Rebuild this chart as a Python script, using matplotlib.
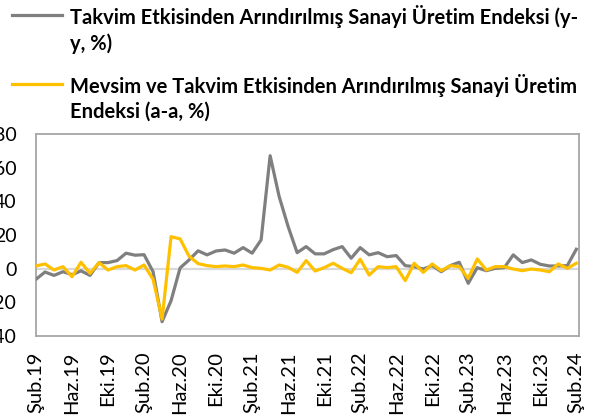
import matplotlib
matplotlib.use("Agg")
import matplotlib.pyplot as plt
from matplotlib.lines import Line2D
import numpy as np

# aylik seriler, Subat 2019 - Subat 2024
aylar = ["Oca", "Şub", "Mar", "Nis", "May", "Haz", "Tem", "Ağu", "Eyl", "Eki", "Kas", "Ara"]
yy_endeks = [-6.3, -2.0, -4.0, -1.8, -3.6, -1.3, -4.0, 3.6, 3.6, 4.8,
             9.2, 8.0, 8.3, -1.8, -31.5, -19.0, 0.4, 5.2, 10.6, 8.2,
             10.5, 11.1, 9.2, 12.5, 9.2, 17.1, 67.1, 42.9, 25.0, 9.5,
             13.1, 8.8, 8.8, 11.3, 13.1, 6.2, 12.5, 8.2, 9.5, 7.1,
             7.8, 1.8, 1.2, -0.2, 1.8, -1.8, 1.8, 3.8, -8.7, 0.6,
             -1.2, 0.2, 0.6, 8.2, 3.6, 5.2, 2.6, 1.6, 1.6, 1.8,
             11.5]
aa_endeks = [1.6, 2.8, -0.8, 1.2, -4.8, 3.8, -2.8, 3.6, -0.8, 1.2,
             1.8, -0.8, 2.2, -6.3, -29.9, 19.0, 17.7, 7.4, 3.0, 1.8,
             1.2, 1.6, 1.2, 2.2, 0.6, 0.2, -0.8, 2.2, 0.8, -2.2,
             4.8, -1.4, 0.6, 3.2, 0.2, -2.4, 5.6, -3.8, 1.2, 0.6,
             1.2, -7.1, 3.2, -2.2, 2.8, -1.2, 1.8, 1.2, -5.8, 5.8,
             -0.8, 1.2, 1.2, -0.2, -1.2, -0.2, -0.8, -1.8, 2.8, 0.2,
             3.2]
seri_adlari = ["Takvim Etkisinden Arındırılmış Sanayi Üretim Endeksi (y-\ny, %)",
               "Mevsim ve Takvim Etkisinden Arındırılmış Sanayi Üretim\nEndeksi (a-a, %)"]

etiketler = []
for k in range(len(yy_endeks)):
    ay = (1 + k) % 12
    yil = 19 + (1 + k) // 12
    etiketler.append(f"{aylar[ay]}.{yil}")

plt.rcParams['font.family'] = ['Lato', 'DejaVu Sans']

W, H = 605, 418
fig = plt.figure(figsize=(W / 100, H / 100), dpi=100)
ax = fig.add_axes([36 / W, 82 / H, 543 / W, 202 / H])

x = np.arange(len(yy_endeks))
ax.axhline(0, color="#d9d9d9", lw=1.6, zorder=1)
ax.plot(x, yy_endeks, color="#7f7f7f", lw=2.3, zorder=3)
ax.plot(x, aa_endeks, color="#ffc000", lw=2.3, zorder=4)

ax.set_xlim(0, 60.3)
ax.set_ylim(-40, 80)
ax.set_yticks(range(-40, 81, 20))
ax.set_xticks(x[::4])
ax.set_xticklabels(etiketler[::4], rotation=90, fontsize=14.5)
ax.tick_params(axis="y", length=0, pad=14, labelsize=14)
ax.tick_params(axis="x", length=0, pad=11)
for s in ax.spines.values():
    s.set_color("#a6a6a6")
    s.set_linewidth(1.3)

# lejant (Excel gibi grafik ustunde)
renkler = ["#7f7f7f", "#ffc000"]
ust = [15, 84]
for ad, renk, yp in zip(seri_adlari, renkler, ust):
    fig.add_artist(Line2D([12 / W, 62 / W], [1 - yp / H, 1 - yp / H], color=renk, lw=2.3))
    fig.text(70 / W, 1 - (yp - 10) / H, ad, fontsize=14.5, fontweight="bold",
             va="top", ha="left", linespacing=1.3)

fig.savefig("out.png", dpi=100)
